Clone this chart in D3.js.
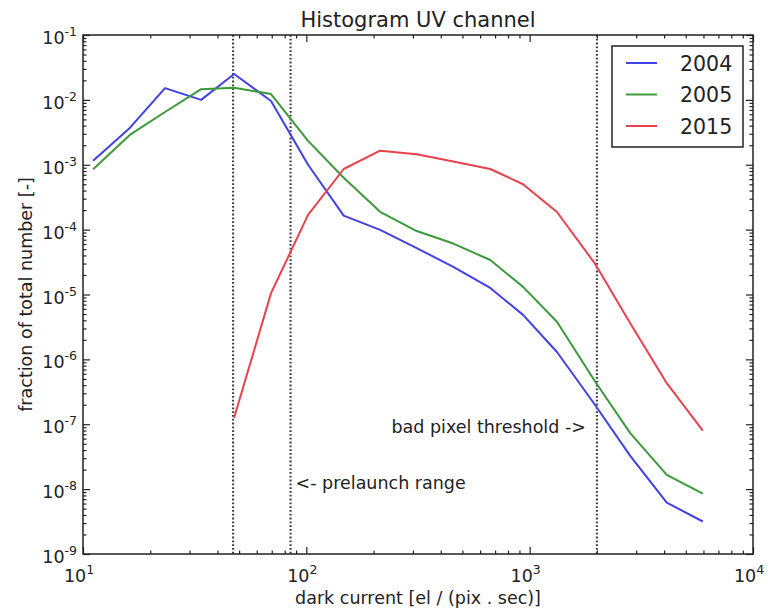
<!DOCTYPE html>
<html>
<head>
<meta charset="utf-8">
<script src="https://cdn.jsdelivr.net/npm/d3@7"></script>
<style>
  html, body { margin: 0; padding: 0; background: #fff; }
  svg text { font-family: "DejaVu Sans", sans-serif; fill: #222; }
</style>
</head>
<body>
<svg id="chart" width="773" height="616"></svg>
<script>
// ---- data ----
const binCenters = [11.1, 16.2, 23.3, 33.8, 47.5, 69.5, 101.8, 147, 214, 312, 455, 666, 934, 1325, 1960, 2820, 4110, 5960];
const seriesNames = ["2004", "2005", "2015"];
const frac2004 = [1.15e-3, 3.7e-3, 1.52e-2, 1.0e-2, 2.5e-2, 9.6e-3, 1.0e-3, 1.64e-4, 9.9e-5, 5.2e-5, 2.66e-5, 1.26e-5, 4.85e-6, 1.3e-6, 2.0e-7, 3.26e-8, 6.2e-9, 3.17e-9];
const frac2005 = [8.5e-4, 2.88e-3, 6.5e-3, 1.46e-2, 1.54e-2, 1.23e-2, 2.33e-3, 6.3e-4, 1.88e-4, 9.5e-5, 6.1e-5, 3.4e-5, 1.31e-5, 3.8e-6, 4.6e-7, 7.3e-8, 1.66e-8, 8.5e-9];
const frac2015 = [null, null, null, null, 1.26e-7, 1.05e-5, 1.69e-4, 8.6e-4, 1.65e-3, 1.45e-3, 1.12e-3, 8.6e-4, 5.0e-4, 1.87e-4, 3.0e-5, 3.6e-6, 4.3e-7, 8.0e-8];
const seriesColors = ["#4141e6", "#3c9a3c", "#e8424c"];
const refLines = [47, 85, 2000];
const xTickExps = [1, 2, 3, 4];
const yTickExps = [-1, -2, -3, -4, -5, -6, -7, -8, -9];
const titleText = "Histogram UV channel";
const xLabelText = "dark current [el / (pix . sec)]";
const yLabelText = "fraction of total number [-]";
const annotations = [
  {text: "bad pixel threshold ->", x: 2000, y: 7.4e-8, anchor: "end"},
  {text: "<- prelaunch range", x: 85, y: 1.0e-8, anchor: "start"}
];

// ---- layout ----
const W = 773, H = 616;
const margin = {top: 35, right: 20, bottom: 62, left: 83};
const svg = d3.select("#chart");
const x = d3.scaleLog().domain([10, 1e4]).range([margin.left, W - margin.right]);
const y = d3.scaleLog().domain([1e-9, 1e-1]).range([H - margin.bottom, margin.top]);
const x0 = x.range()[0], x1 = x.range()[1], y0 = y.range()[0], y1 = y.range()[1];

// minor ticks
const minorX = [], minorY = [];
for (let e = 1; e < 4; e++) for (let m = 2; m <= 9; m++) minorX.push(m * Math.pow(10, e));
for (let e = -9; e < -1; e++) for (let m = 2; m <= 9; m++) minorY.push(m * Math.pow(10, e));
const majorX = xTickExps.map(e => Math.pow(10, e));
const majorY = yTickExps.map(e => Math.pow(10, e));

function styleAxis(g) {
  g.select(".domain").remove();
  g.selectAll(".tick line").attr("stroke", "#222").attr("stroke-width", 1.2);
  g.selectAll(".tick text").remove();
}
// bottom & top
svg.append("g").attr("transform", `translate(0,${y0})`).call(d3.axisBottom(x).tickValues(majorX).tickSize(-7)).call(styleAxis);
svg.append("g").attr("transform", `translate(0,${y0})`).call(d3.axisBottom(x).tickValues(minorX).tickSize(-3.5)).call(styleAxis);
svg.append("g").attr("transform", `translate(0,${y1})`).call(d3.axisTop(x).tickValues(majorX).tickSize(-7)).call(styleAxis);
svg.append("g").attr("transform", `translate(0,${y1})`).call(d3.axisTop(x).tickValues(minorX).tickSize(-3.5)).call(styleAxis);
// left & right
svg.append("g").attr("transform", `translate(${x0},0)`).call(d3.axisLeft(y).tickValues(majorY).tickSize(-7)).call(styleAxis);
svg.append("g").attr("transform", `translate(${x0},0)`).call(d3.axisLeft(y).tickValues(minorY).tickSize(-3.5)).call(styleAxis);
svg.append("g").attr("transform", `translate(${x1},0)`).call(d3.axisRight(y).tickValues(majorY).tickSize(-7)).call(styleAxis);
svg.append("g").attr("transform", `translate(${x1},0)`).call(d3.axisRight(y).tickValues(minorY).tickSize(-3.5)).call(styleAxis);

// reference dotted lines
svg.append("g").selectAll("line").data(refLines).join("line")
  .attr("x1", d => x(d)).attr("x2", d => x(d))
  .attr("y1", y1).attr("y2", y0)
  .attr("stroke", "#444").attr("stroke-width", 2.2)
  .attr("stroke-dasharray", "1.8,2");

// series lines
const seriesData = [frac2004, frac2005, frac2015];
const line = d3.line()
  .defined(d => d.v != null)
  .x(d => x(d.x)).y(d => y(d.v));
svg.append("g").selectAll("path").data(seriesData).join("path")
  .attr("d", vals => line(binCenters.map((b, i) => ({x: b, v: vals[i]}))))
  .attr("fill", "none")
  .attr("stroke", (d, i) => seriesColors[i])
  .attr("stroke-width", 2)
  .attr("stroke-linejoin", "round");

// frame
svg.append("rect").attr("x", x0).attr("y", y1).attr("width", x1 - x0).attr("height", y0 - y1)
  .attr("fill", "none").attr("stroke", "#222").attr("stroke-width", 1.5);

// tick labels
const xl = svg.append("g").selectAll("text").data(xTickExps).join("text")
  .attr("x", d => x(Math.pow(10, d)) - 4).attr("y", y0 + 28)
  .attr("text-anchor", "middle").style("font-size", "17.5px");
xl.append("tspan").text("10");
xl.append("tspan").attr("dy", -8).style("font-size", "12.5px").text(d => String(d));

const yl = svg.append("g").selectAll("text").data(yTickExps).join("text")
  .attr("x", x0 - 6).attr("y", d => y(Math.pow(10, d)) + 9)
  .attr("text-anchor", "end").style("font-size", "17.5px");
yl.append("tspan").text("10");
yl.append("tspan").attr("dy", -8).style("font-size", "12.5px").text(d => String(d));

// title & axis labels
svg.append("text").attr("x", (x0 + x1) / 2).attr("y", 27).attr("text-anchor", "middle")
  .style("font-size", "21px").text(titleText);
svg.append("text").attr("x", (x0 + x1) / 2).attr("y", 604).attr("text-anchor", "middle")
  .style("font-size", "17.5px").text(xLabelText);
svg.append("text").attr("transform", `translate(32,${(y0 + y1) / 2}) rotate(-90)`).attr("text-anchor", "middle")
  .style("font-size", "17.5px").text(yLabelText);

// annotations
svg.append("g").selectAll("text").data(annotations).join("text")
  .attr("x", d => d.anchor === "end" ? x(d.x) - 11 : x(d.x) + 5)
  .attr("y", d => y(d.y))
  .attr("text-anchor", d => d.anchor)
  .style("font-size", "17.5px").text(d => d.text);

// legend
const lg = svg.append("g");
lg.append("rect").attr("x", 612).attr("y", 46).attr("width", 131).attr("height", 101)
  .attr("fill", "#fff").attr("stroke", "#222").attr("stroke-width", 1.5);
const items = lg.selectAll("g.item").data(seriesNames).join("g").attr("class", "item")
  .attr("transform", (d, i) => `translate(0,${63 + i * 31.5})`);
items.append("line").attr("x1", 626).attr("x2", 657).attr("y1", 0).attr("y2", 0)
  .attr("stroke", (d, i) => seriesColors[i]).attr("stroke-width", 2);
items.append("text").attr("x", 680).attr("y", 7.5).style("font-size", "20.5px").text(d => d);
</script>
</body>
</html>
